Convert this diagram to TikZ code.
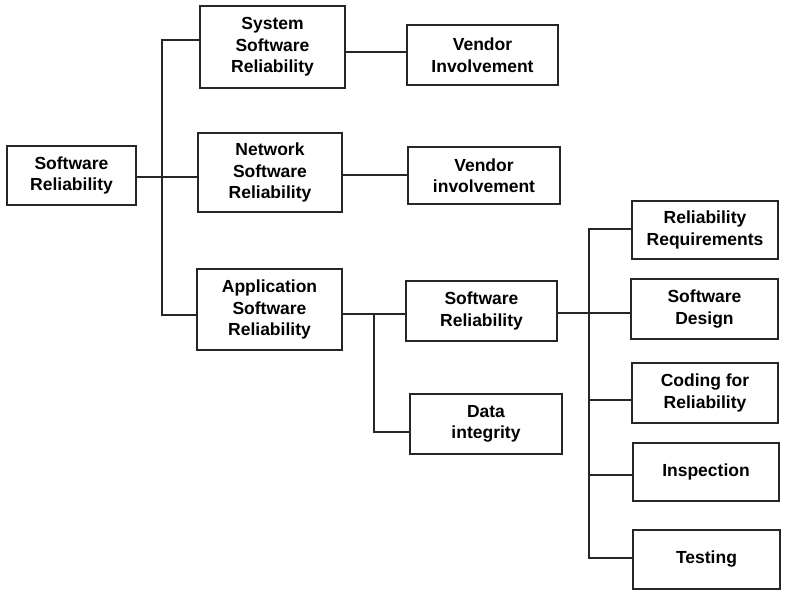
\documentclass[tikz,border=0pt]{standalone}
\usepackage{fontspec}
\setmainfont{Liberation Sans}
\begin{document}
\begin{tikzpicture}[x=1pt,y=-1pt,
  box/.style={draw=black!85, line width=1.8pt, fill=white, align=center,
    inner sep=0pt, font=\fontsize{17.5}{21.5}\selectfont\bfseries},
  link/.style={draw=black!85, line width=1.6pt}]
\useasboundingbox[fill=white] (0,0) rectangle (789,594);
% boxes: \bx{name}{x0}{y0}{x1}{y1}{text}
\newcommand{\bx}[6]{\node[box, minimum width=#4-#2, minimum height=#5-#3] (#1) at ({(#2+#4)/2},{(#3+#5)/2}) {#6};}
\bx{root}{7}{146}{136}{205}{Software\\Reliability}
\bx{sys}{200}{6}{345}{88}{System\\Software\\Reliability}
\bx{ven1}{407}{25}{558}{85}{Vendor\\Involvement}
\bx{net}{198}{133}{342}{212}{Network\\Software\\Reliability}
\bx{ven2}{408}{147}{560}{204}{Vendor\\involvement}
\bx{app}{197}{269}{342}{350}{Application\\Software\\Reliability}
\bx{swr}{406}{281}{557}{341}{Software\\Reliability}
\bx{data}{410}{394}{562}{454}{Data\\integrity}
\bx{req}{632}{201}{778}{259}{Reliability\\Requirements}
\bx{des}{631}{279}{778}{339}{Software\\Design}
\bx{cod}{632}{363}{778}{423}{Coding for\\Reliability}
\bx{ins}{633}{443}{779}{501}{Inspection}
\bx{tst}{633}{530}{780}{589}{Testing}
% junction points of the trunk lines
\coordinate (j1) at (162,177);
\coordinate (j2) at (374,314);
\coordinate (j3) at (589,313);
% root to its three children
\draw[link] (root.east |- j1) -- (net.west |- j1);
\draw[link] (sys.west |- 0,40) -| (j1) |- (app.west |- 0,315);
% vendor branches
\draw[link] (sys.east |- 0,52) -- (ven1.west |- 0,52);
\draw[link] (net.east |- 0,175) -- (ven2.west |- 0,175);
% application branch
\draw[link] (app.east |- 0,314) -- (swr.west |- 0,314);
\draw[link] (j2) |- (data.west |- 0,432);
% software reliability branch
\draw[link] (swr.east |- j3) -- (des.west |- j3);
\draw[link] (req.west |- 0,229) -| (j3) |- (tst.west |- 0,558);
\draw[link] (j3 |- 0,400) -- (cod.west |- 0,400);
\draw[link] (j3 |- 0,475) -- (ins.west |- 0,475);
\end{tikzpicture}
\end{document}
